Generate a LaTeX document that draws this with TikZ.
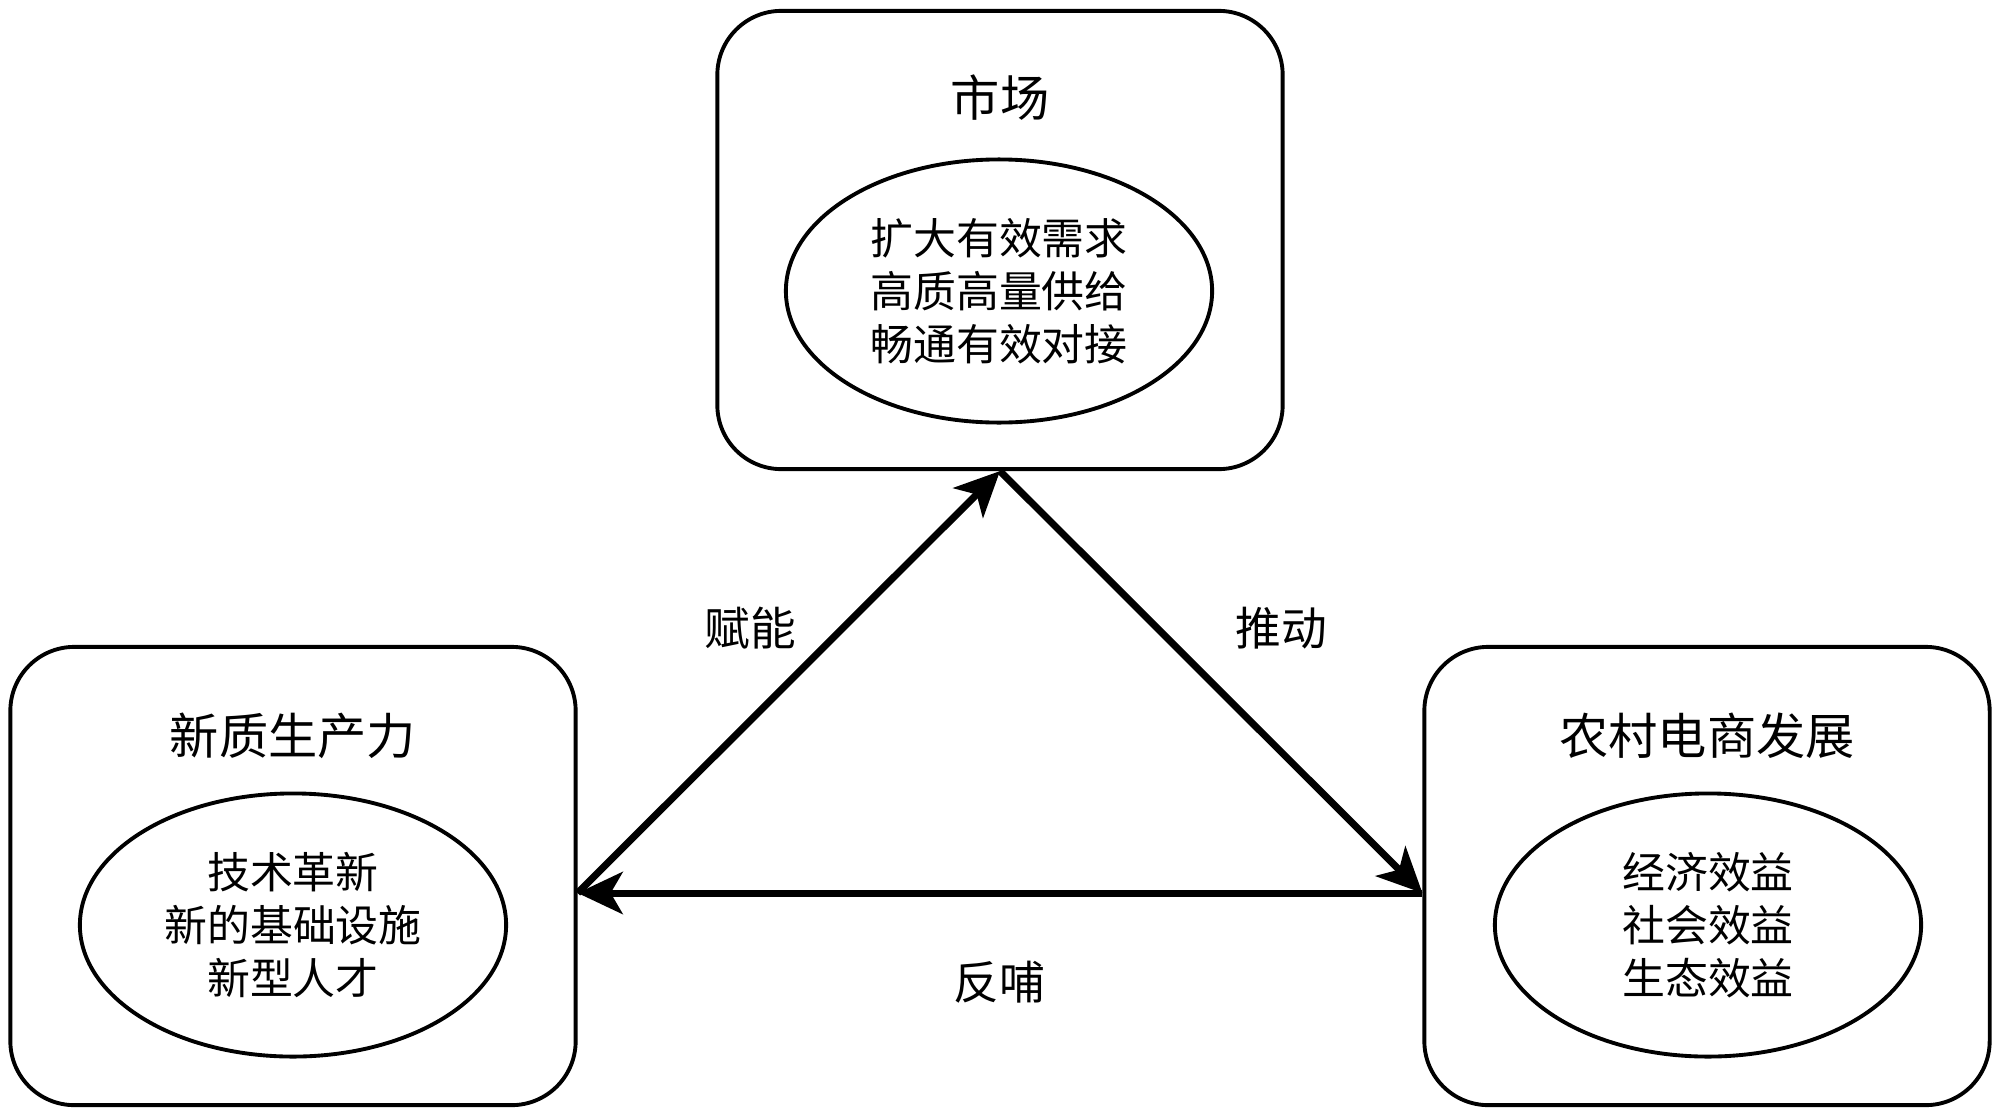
\documentclass[tikz,border=0pt]{standalone}
\usepackage{fontspec}
\newfontfamily\cjk{Noto Sans CJK SC}
\usetikzlibrary{shapes.geometric,arrows.meta}

\begin{document}
\begin{tikzpicture}[x=0.01cm, y=-0.01cm,
		box_style/.style={draw=black,line width=1.1pt,rounded corners=0.64cm,minimum width=5.65cm,minimum height=4.58cm},
		ellipse_style/.style={ellipse,draw=black,line width=1.1pt,minimum width=4.26cm,minimum height=2.63cm,inner sep=0pt},
		title_style/.style={font=\cjk\fontsize{14}{17}\selectfont},
		item_style/.style={font=\cjk\fontsize{12.2}{15}\selectfont,align=center},
		label_style/.style={font=\cjk\fontsize{13}{16}\selectfont},
		edge_style/.style={draw=black,line width=2pt,-{Stealth[length=0.45cm,width=0.42cm,inset=0.12cm]}}]

		\useasboundingbox (0,0) rectangle (2000,1115);

		% boxes
		\node[box_style] (market) at (1000,240) {};
		\node[box_style] (force) at (293,876) {};
		\node[box_style] (rural) at (1707,876) {};

		% titles
		\node[title_style] (t_market) at (1000,98) {市场};
		\node[title_style] (t_force) at (293,736) {新质生产力};
		\node[title_style] (t_rural) at (1707,736) {农村电商发展};

		% inner ellipses
		\node[ellipse_style] (e_market) at (999,291) {};
		\node[ellipse_style] (e_force) at (293,925) {};
		\node[ellipse_style] (e_rural) at (1708,925) {};

		\node[item_style] (i_market) at (e_market) {扩大有效需求\\高质高量供给\\畅通有效对接};
		\node[item_style] (i_force) at (e_force) {技术革新\\新的基础设施\\新型人才};
		\node[item_style] (i_rural) at (e_rural) {经济效益\\社会效益\\生态效益};

		% arrow ends
		\coordinate (p_top) at (market.south);
		\coordinate (p_left) at ([yshift=-0.17cm]force.east);
		\coordinate (p_right) at ([yshift=-0.17cm]rural.west);

		\draw[edge_style] (p_left) -- (p_top);
		\draw[edge_style] (p_top) -- (p_right);
		\draw[edge_style] (p_right) -- (p_left);

		% labels
		\node[label_style] (l_fn) at (750,628) {赋能};
		\node[label_style] (l_td) at (1281,628) {推动};
		\node[label_style] (l_fb) at (999,982) {反哺};

\end{tikzpicture}
\end{document}
